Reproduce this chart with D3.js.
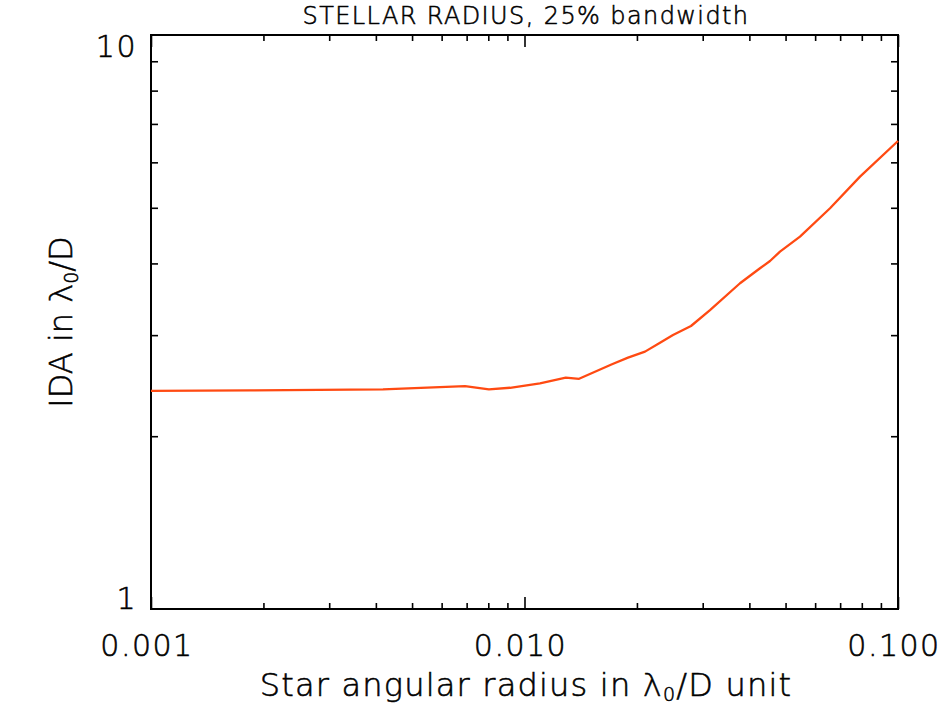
<!DOCTYPE html>
<html>
<head>
<meta charset="utf-8">
<script src="https://cdn.jsdelivr.net/npm/d3@7"></script>
<style>
  html, body { margin: 0; padding: 0; background: #fff; }
  svg { display: block; }
  text { font-family: "DejaVu Sans", sans-serif; fill: #000; stroke: #000; stroke-width: 0.55; font-weight: 200; }
</style>
</head>
<body>
<svg id="chart" width="945" height="709"></svg>
<script>
// ---- data ----
const radius = [0.001, 0.00184, 0.00418, 0.00693, 0.00803, 0.00915, 0.0110, 0.0129, 0.0140,
                0.01715, 0.01893, 0.02102, 0.02306, 0.02498, 0.02791, 0.03138, 0.03776,
                0.04271, 0.04543, 0.04831, 0.05465, 0.06577, 0.07912, 0.1];
const ida = [2.398, 2.403, 2.414, 2.446, 2.414, 2.429, 2.473, 2.529, 2.518,
             2.669, 2.741, 2.808, 2.911, 3.001, 3.112, 3.318, 3.694,
             3.923, 4.039, 4.193, 4.453, 4.991, 5.665, 6.537];
const xTickValues = [0.001, 0.01, 0.1];
const xTickLabels = ["0.001", "0.010", "0.100"];
const yTickValues = [1, 10];
const yTickLabels = ["1", "10"];
const titleText = "STELLAR RADIUS, 25% bandwidth";

// ---- layout ----
const L = 151, R = 898, T = 35, B = 609;
const svg = d3.select("#chart");
const x = d3.scaleLog().domain([0.001, 0.1]).range([L, R]);
const y = d3.scaleLog().domain([1, 10]).range([B, T]);

const xMinor = x.ticks().filter(v => !xTickValues.some(t => Math.abs(t - v) / t < 1e-9));
const yMinor = y.ticks().filter(v => !yTickValues.some(t => Math.abs(t - v) / t < 1e-9));

function styleAxis(g) {
  g.select(".domain").remove();
  g.selectAll(".tick line").attr("stroke", "#000").attr("stroke-width", 1.6);
  g.selectAll(".tick text").remove();
}

// minor + major ticks, bottom & top
svg.append("g").attr("transform", `translate(0,${B})`)
  .call(d3.axisBottom(x).tickValues(xMinor).tickSize(-6)).call(styleAxis);
svg.append("g").attr("transform", `translate(0,${B})`)
  .call(d3.axisBottom(x).tickValues(xTickValues).tickSize(-12)).call(styleAxis);
svg.append("g").attr("transform", `translate(0,${T})`)
  .call(d3.axisTop(x).tickValues(xMinor).tickSize(-6)).call(styleAxis);
svg.append("g").attr("transform", `translate(0,${T})`)
  .call(d3.axisTop(x).tickValues(xTickValues).tickSize(-12)).call(styleAxis);
// left & right
svg.append("g").attr("transform", `translate(${L},0)`)
  .call(d3.axisLeft(y).tickValues(yMinor).tickSize(-7)).call(styleAxis);
svg.append("g").attr("transform", `translate(${R},0)`)
  .call(d3.axisRight(y).tickValues(yMinor).tickSize(-7)).call(styleAxis);

// frame
svg.append("rect").attr("x", L).attr("y", T).attr("width", R - L).attr("height", B - T)
  .attr("fill", "none").attr("stroke", "#000").attr("stroke-width", 2);

// tick labels
svg.selectAll(".xlab").data(xTickValues).enter().append("text")
  .attr("x", d => x(d) - 4).attr("y", 656)
  .attr("text-anchor", "middle").attr("font-size", 30).attr("letter-spacing", 1.5)
  .text((d, i) => xTickLabels[i]);
svg.selectAll(".ylab").data(yTickValues).enter().append("text")
  .attr("x", 137).attr("y", d => d === 10 ? y(d) + 22 : y(d))
  .attr("text-anchor", "end").attr("font-size", 30).attr("letter-spacing", 1.5)
  .text((d, i) => yTickLabels[i]);

// title
svg.append("text").attr("x", 526).attr("y", 24).attr("text-anchor", "middle")
  .attr("font-size", 24).attr("letter-spacing", 1.4).text(titleText);

// x axis title
const xt = svg.append("text").attr("x", 526).attr("y", 696).attr("text-anchor", "middle")
  .attr("font-size", 32).attr("letter-spacing", 1.2);
xt.append("tspan").text("Star angular radius in λ");
xt.append("tspan").attr("font-size", 19).attr("dy", 5).text("0");
xt.append("tspan").attr("dy", -5).text("/D unit");

// y axis title
const yt = svg.append("text").attr("transform", `translate(72,${(T + B) / 2}) rotate(-90)`)
  .attr("text-anchor", "middle").attr("font-size", 32);
yt.append("tspan").text("IDA in λ");
yt.append("tspan").attr("font-size", 19).attr("dy", 6).text("0");
yt.append("tspan").attr("dy", -6).text("/D");

// data line
const line = d3.line().x((d, i) => x(radius[i])).y(d => y(d));
svg.append("path").datum(ida).attr("d", line)
  .attr("fill", "none").attr("stroke", "#ff4a12").attr("stroke-width", 2.3)
  .attr("stroke-linejoin", "round");
</script>
</body>
</html>
